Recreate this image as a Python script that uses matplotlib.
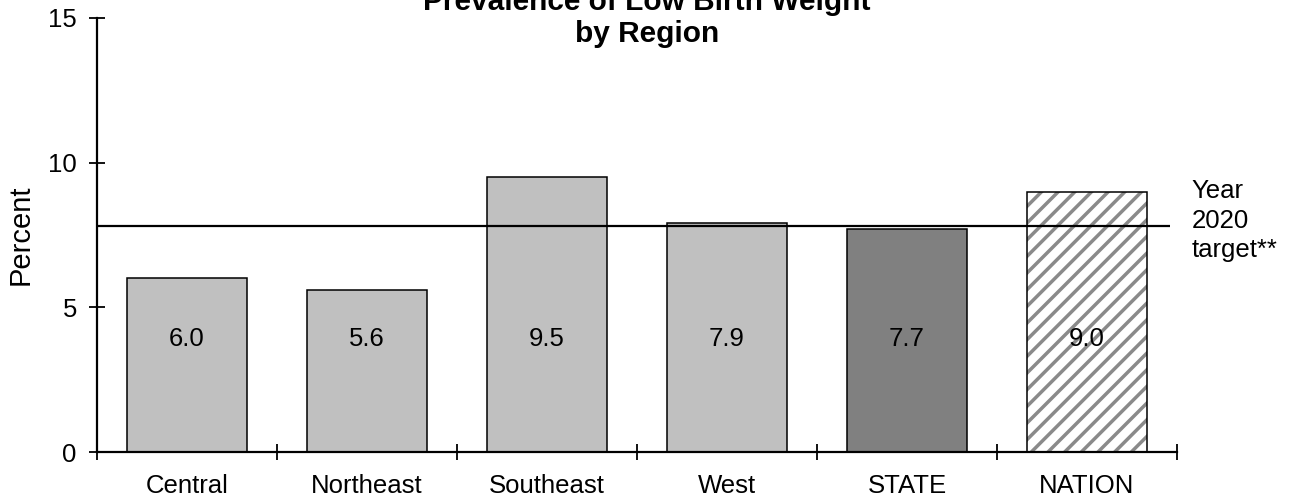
import matplotlib
matplotlib.use("Agg")
import matplotlib.pyplot as plt

# data
regions = ["Central", "Northeast", "Southeast", "West", "STATE", "NATION"]
percent = [6.0, 5.6, 9.5, 7.9, 7.7, 9.0]
target = 7.8
bar_colors = ["#c0c0c0", "#c0c0c0", "#c0c0c0", "#c0c0c0", "#808080", "white"]

plt.rcParams['font.family'] = ['Liberation Sans', 'DejaVu Sans']
plt.rcParams['hatch.linewidth'] = 2.5

fig = plt.figure(figsize=(12.91, 4.97), dpi=100)
ax = fig.add_axes([0.0751, 0.0905, 0.9117 - 0.0751, 0.9638 - 0.0905])

x = list(range(len(regions)))
# plain bars for the regions and the state
ax.bar(x[:5], percent[:5], width=0.667, color=bar_colors[:5],
       edgecolor="black", linewidth=1.1, zorder=2)
# hatched bar for the nation: gray hatch first, then black outline
ax.bar(x[5], percent[5], width=0.667, color="white", edgecolor="#8a8a8a",
       linewidth=0, hatch="//", zorder=2)
ax.bar(x[5], percent[5], width=0.667, fill=False, edgecolor="black",
       linewidth=1.1, zorder=3)

# value labels, all at the same height
for i, v in enumerate(percent):
    ax.text(i, 3.9, "%.1f" % v, ha="center", va="center", fontsize=18.5, zorder=4)

# target line
ax.hlines(target, -0.5, 5.46, color="black", linewidth=1.6, zorder=3, clip_on=False)
ax.text(5.58, target + 0.2, "Year\n2020\ntarget**", ha="left", va="center",
        fontsize=18.5, linespacing=1.3)

ax.set_xlim(-0.5, 5.5)
ax.set_ylim(0, 15)
ax.set_yticks([0, 5, 10, 15])
ax.set_xticks([i - 0.5 for i in range(len(regions) + 1)])
ax.set_xticklabels([])
ax.set_xticks(x, minor=True)
ax.set_xticklabels(regions, minor=True, fontsize=18.5)
ax.tick_params(axis="x", which="minor", length=0, pad=16)
ax.tick_params(axis="both", which="major", direction="inout", length=11,
               width=1.3, labelsize=18.5)
ax.tick_params(axis="y", pad=9)

for s in ["top", "right"]:
    ax.spines[s].set_visible(False)
for s in ["left", "bottom"]:
    ax.spines[s].set_linewidth(1.6)

ax.set_ylabel("Percent", fontsize=21)
ax.yaxis.set_label_coords(-0.058, 0.5)

fig.text(0.501, 0.9155, "Prevalence of Low Birth Weight\nby Region", ha="center",
         va="baseline", fontsize=21.5, fontweight="bold", linespacing=1.2)

fig.savefig("out.png", dpi=100)
